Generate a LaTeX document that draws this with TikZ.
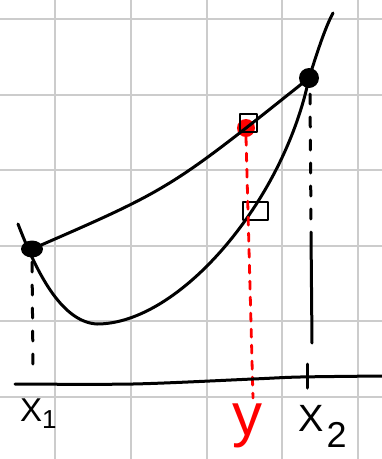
\documentclass[tikz,border=0pt]{standalone}
\usepackage{fontspec}
\setmainfont{Liberation Sans}
\usetikzlibrary{shapes.geometric}
\begin{document}
\begin{tikzpicture}[x=1pt,y=-1pt,line cap=round,line join=round,
  gridline/.style={draw=black!20,line width=2pt},
  pen/.style={draw=black,line width=3pt},
  dashpen/.style={pen,dash pattern=on 10pt off 13pt},
  reddash/.style={draw=red,line width=2.8pt,dash pattern=on 8pt off 8pt},
  blackdot/.style={circle,fill=black,inner sep=0pt,minimum size=20pt},
  reddot/.style={circle,fill=red,inner sep=0pt,minimum size=18pt},
  markbox/.style={draw=black,line width=2.6pt,inner sep=0pt},
  lbl/.style={inner sep=0pt}]
\useasboundingbox (0,0) rectangle (382,459);
% grid
\foreach \gx in {55,131,207,282,358} \draw[gridline] (\gx,0) -- (\gx,459);
\foreach \gy in {19,95,170,246,321,397} \draw[gridline] (0,\gy) -- (382,\gy);
% points
\node[ellipse,fill=black,inner sep=0pt,minimum width=22pt,minimum height=17pt] (p1) at (32,249) {};
\node[blackdot] (p2) at (309,78) {};
\node[reddot] (r) at (246,128) {};
% main convex curve
\coordinate (c0) at (18,224);
\coordinate (cm) at (97,324);
\coordinate (c3) at (333,13);
\draw[pen] (c0) .. controls (35,268) and (60,322) .. (cm)
  .. controls (180,324) and (284,200) .. (p2.center)
  .. controls (318,50) and (325,28) .. (c3);
% chord
\draw[pen] (p1.center) .. controls (170,189) .. (p2.center);
% boxes
\draw[markbox] (240,114) rectangle (257,132);
\draw[markbox] (243,202) rectangle (268,220);
% red dashed line
\coordinate (rb) at (253,398);
\draw[reddash] (r.south) -- (rb);
% x1 dashed
\coordinate (x1t) at (32,262);
\coordinate (x1b) at (33,365);
\draw[dashpen] (x1t) -- (x1b);
% x2 dashed then solid
\coordinate (x2t) at (310,94);
\coordinate (x2m) at (311,222);
\coordinate (x2s) at (311,232);
\coordinate (x2b) at (312,343);
\draw[dashpen] (x2t) -- (x2m);
\draw[pen] (x2s) -- (x2b);
% axis
\coordinate (a0) at (15,384);
\coordinate (a1) at (382,376);
\draw[pen] plot[smooth] coordinates {(a0) (133,384) (253,379) (300,377) (a1)};
% tick
\coordinate (t0) at (307,364);
\coordinate (t1) at (307,388);
\draw[pen] (t0) -- (t1);
% labels
\node[lbl,anchor=base west,font=\fontsize{33}{33}\selectfont] (lx1) at (20,421) {X\raisebox{-7pt}{\fontsize{26}{26}\selectfont 1}};
\node[lbl,anchor=base west,font=\fontsize{38}{38}\selectfont] (lx2) at (298,431) {X\hspace{3pt}\raisebox{-16pt}{\fontsize{36}{36}\selectfont 2}};
\node[lbl,anchor=base,text=red,font=\fontsize{60}{60}\selectfont] (ly) at (247,435) {y};
\end{tikzpicture}
\end{document}
